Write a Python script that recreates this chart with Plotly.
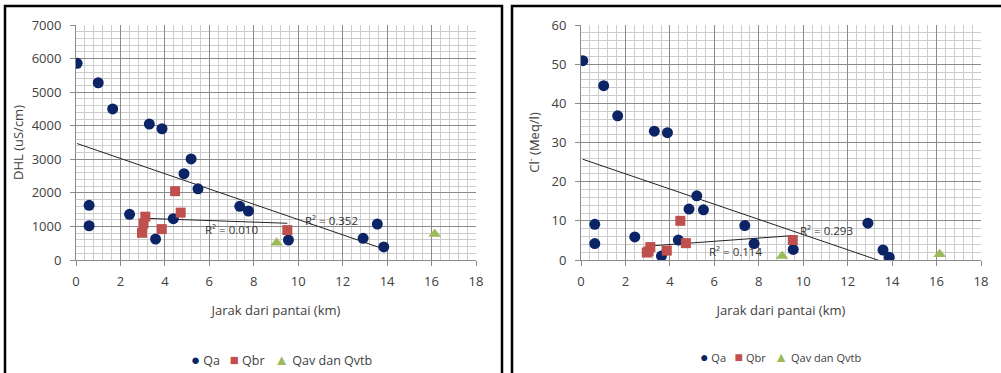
import numpy as np
import plotly.graph_objects as go

W, H = 1001, 373

# ---------------- Data ----------------
# Left chart: DHL (uS/cm) vs distance from coast (km)
qa_x_dhl = [0.05, 1.0, 1.65, 3.3, 3.87, 5.18, 4.86, 5.49, 0.59, 0.59, 2.41, 4.38, 3.58, 7.37, 7.76, 9.56, 12.92, 13.56, 13.85]
qa_y_dhl = [5860, 5280, 4500, 4050, 3910, 3010, 2570, 2120, 1630, 1020, 1360, 1230, 625, 1600, 1460, 596, 646, 1070, 390]
qbr_x_dhl = [3.12, 3.04, 2.97, 3.86, 4.71, 4.46, 9.51]
qbr_y_dhl = [1290, 1090, 810, 920, 1410, 2050, 890]
qav_x_dhl = [9.03, 16.14]
qav_y_dhl = [516, 775]

# Right chart: Cl- (Meq/l) vs distance from coast (km)
qa_x_cl = [0.08, 1.02, 1.65, 3.3, 3.89, 5.21, 4.86, 5.51, 0.62, 0.62, 2.42, 4.38, 3.62, 7.37, 7.79, 9.55, 12.91, 13.59, 13.87]
qa_y_cl = [50.9, 44.5, 36.8, 32.9, 32.5, 16.4, 13.0, 12.8, 9.1, 4.2, 5.9, 5.1, 1.0, 8.8, 4.2, 2.7, 9.4, 2.55, 0.7]
qbr_x_cl = [3.12, 3.04, 2.96, 3.86, 4.47, 4.72, 9.53]
qbr_y_cl = [3.3, 2.2, 1.9, 2.4, 10.0, 4.3, 5.1]
qav_x_cl = [9.05, 16.14]
qav_y_cl = [1.0, 1.5]

series_names = ["Qa", "Qbr", "Qav dan Qvtb"]
x_title = "Jarak dari pantai (km)"
y_title_left = "DHL (uS/cm)"
y_title_right = "Cl<sup>-</sup> (Meq/l)"
r2_labels_left = ["R² = 0.352", "R² = 0.010"]
r2_labels_right = ["R² = 0.293", "R² = 0.114"]

# ---------------- Styles ----------------
C_QA = "#0b2466"
C_QBR = "#c0504d"
C_QAV = "#9bbb59"
FONT = "Open Sans"
TXT = "#404040"


def trend(xs, ys):
    xs = np.asarray(xs, float)
    ys = np.asarray(ys, float)
    m, b = np.polyfit(xs, ys, 1)
    xe = np.array([xs.min(), xs.max()])
    return xe, m * xe + b


fig = go.Figure()


def add_panel(xa, ya, data):
    (qa_x, qa_y), (qbr_x, qbr_y), (qav_x, qav_y) = data
    for sx, sy in [(qa_x, qa_y), (qbr_x, qbr_y)]:
        tx, ty = trend(sx, sy)
        fig.add_trace(go.Scatter(x=tx, y=ty, mode="lines", line=dict(color="#222", width=1),
                                 showlegend=False, hoverinfo="skip", xaxis=xa, yaxis=ya))
    fig.add_trace(go.Scatter(x=qa_x, y=qa_y, mode="markers", name=series_names[0],
                             marker=dict(color=C_QA, size=11, symbol="circle"),
                             xaxis=xa, yaxis=ya, showlegend=False))
    fig.add_trace(go.Scatter(x=qbr_x, y=qbr_y, mode="markers", name=series_names[1],
                             marker=dict(color=C_QBR, size=10, symbol="square"),
                             xaxis=xa, yaxis=ya, showlegend=False))
    fig.add_trace(go.Scatter(x=qav_x, y=qav_y, mode="markers", name=series_names[2],
                             marker=dict(color=C_QAV, size=11, symbol="triangle-up"),
                             xaxis=xa, yaxis=ya, showlegend=False))


add_panel("x", "y", [(qa_x_dhl, qa_y_dhl), (qbr_x_dhl, qbr_y_dhl), (qav_x_dhl, qav_y_dhl)])
add_panel("x2", "y2", [(qa_x_cl, qa_y_cl), (qbr_x_cl, qbr_y_cl), (qav_x_cl, qav_y_cl)])

ydom = [1 - 260 / H, 1 - 25 / H]


def xaxis_cfg(dom, anchor):
    return dict(domain=dom, anchor=anchor, range=[0, 18], dtick=2, tick0=0, automargin=False,
                showgrid=True, gridcolor="#8a8a8a", gridwidth=1,
                minor=dict(dtick=0.4, showgrid=True, gridcolor="#cccccc", gridwidth=1),
                showline=True, linecolor="#8a8a8a", ticks="outside", ticklen=5, tickcolor="#8a8a8a",
                ticklabelstandoff=4,
                zeroline=False, tickfont=dict(family=FONT, size=13, color=TXT),
                title=dict(text=x_title, font=dict(family=FONT, size=13, color=TXT), standoff=17))


def yaxis_cfg(rng, dt, mdt, anchor, title, st):
    return dict(domain=ydom, anchor=anchor, range=rng, dtick=dt, tick0=0, automargin=False,
                showgrid=True, gridcolor="#8a8a8a", gridwidth=1,
                minor=dict(dtick=mdt, showgrid=True, gridcolor="#cccccc", gridwidth=1),
                showline=True, linecolor="#8a8a8a", ticks="outside", ticklen=5, tickcolor="#8a8a8a",
                ticklabelstandoff=6,
                zeroline=False, tickfont=dict(family=FONT, size=13, color=TXT),
                title=dict(text=title, font=dict(family=FONT, size=13, color=TXT), standoff=st))


fig.update_layout(
    width=W, height=H,
    margin=dict(l=0, r=0, t=0, b=0, autoexpand=False),
    paper_bgcolor="white", plot_bgcolor="white",
    font=dict(family=FONT, color=TXT),
    xaxis=xaxis_cfg([76 / W, 476 / W], "y"),
    yaxis=yaxis_cfg([0, 7000], 1000, 200, "x", y_title_left, 5),
    xaxis2=xaxis_cfg([581 / W, 981 / W], "y2"),
    yaxis2=yaxis_cfg([0, 60], 10, 2, "x2", y_title_right, 8),
    showlegend=False,
)


def legend_text(sym_size):
    s = f"font-size:{sym_size}px"
    return (f"<span style='color:{C_QA};{s}'>●</span> {series_names[0]}   "
            f"<span style='color:{C_QBR};{s}'>■</span> {series_names[1]}   "
            f"<span style='color:{C_QAV};{s}'>▲</span> {series_names[2]}")


fig.add_annotation(x=281 / W, y=1 - 359 / H, xref="paper", yref="paper", showarrow=False,
                   xanchor="center", yanchor="middle",
                   text=legend_text(15), font=dict(family=FONT, size=12.5, color=TXT))
fig.add_annotation(x=780 / W, y=1 - 356 / H, xref="paper", yref="paper", showarrow=False,
                   xanchor="center", yanchor="middle",
                   text=legend_text(14), font=dict(family=FONT, size=11, color=TXT))

# R² labels
ann = [
    dict(x=11.48, y=1170, xref="x", yref="y", text=r2_labels_left[0]),
    dict(x=7.0, y=915, xref="x", yref="y", text=r2_labels_left[1]),
    dict(x=11.04, y=7.66, xref="x2", yref="y2", text=r2_labels_right[0]),
    dict(x=6.94, y=2.1, xref="x2", yref="y2", text=r2_labels_right[1]),
]
for a in ann:
    fig.add_annotation(**a, showarrow=False, font=dict(family=FONT, size=11.5, color="#333"))

# panel borders
fig.add_shape(type="rect", xref="paper", yref="paper", x0=5 / W, x1=502 / W, y0=-0.1, y1=1 - 6 / H,
              line=dict(color="black", width=2.5), layer="above")
fig.add_shape(type="rect", xref="paper", yref="paper", x0=512 / W, x1=1.1, y0=-0.1, y1=1 - 6 / H,
              line=dict(color="black", width=2.5), layer="above")

fig.write_html("out.html", config={"displayModeBar": False},
               post_script="document.body.style.margin='0px';document.body.style.overflow='hidden';")
